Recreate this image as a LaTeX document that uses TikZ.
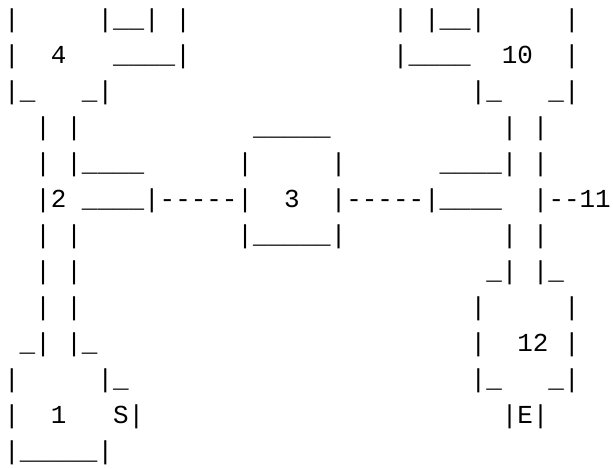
\documentclass[tikz,border=0pt]{standalone}
\usepackage{fontspec}
\setmonofont{Liberation Mono}
\usepackage{tikz}
\newcommand{\asciifont}{\fontsize{19.44pt}{27pt}\selectfont\ttfamily}

\begin{document}
\begin{tikzpicture}[
    x=11.6625pt, y=-27pt,
    ascii/.style={anchor=base west, inner sep=0pt, outer sep=0pt, font=\asciifont}
]
\path[use as bounding box, fill=white] (-0.27,-0.758) rectangle (39.15,12.242);

% room 4 and room 10 (top)
\node[ascii] (row0west) at (0,0) {|~~~~~|\_\_|~|};
\node[ascii] (row0east) at (25,0) {|~|\_\_|~~~~~|};
\node[ascii] (row1west) at (0,1) {|~~4~~~\_\_\_\_|};
\node[ascii] (row1east) at (25,1) {|\_\_\_\_~~10~~|};
\node[ascii] (row2west) at (0,2) {|\_~~~\_|};
\node[ascii] (row2east) at (30,2) {|\_~~~\_|};

% corridors, room 2 and room 3
\node[ascii] (row3west) at (2,3) {|~|};
\node[ascii] (row3mid) at (16,3) {\_\_\_\_\_};
\node[ascii] (row3east) at (32,3) {|~|};
\node[ascii] (row4west) at (2,4) {|~|\_\_\_\_};
\node[ascii] (row4mid) at (15,4) {|~~~~~|};
\node[ascii] (row4east) at (28,4) {\_\_\_\_|~|};
\node[ascii] (row5) at (2,5) {|2~\_\_\_\_|-----|~~3~~|-----|\_\_\_\_~~|--11};
\node[ascii] (row6west) at (2,6) {|~|};
\node[ascii] (row6mid) at (15,6) {|\_\_\_\_\_|};
\node[ascii] (row6east) at (32,6) {|~|};
\node[ascii] (row7west) at (2,7) {|~|};
\node[ascii] (row7east) at (31,7) {\_|~|\_};
\node[ascii] (row8west) at (2,8) {|~|};
\node[ascii] (row8east) at (30,8) {|~~~~~|};

% room 1 (start) and room 12 (end)
\node[ascii] (row9west) at (1,9) {\_|~|\_};
\node[ascii] (row9east) at (30,9) {|~~12~|};
\node[ascii] (row10west) at (0,10) {|~~~~~|\_};
\node[ascii] (row10east) at (30,10) {|\_~~~\_|};
\node[ascii] (row11west) at (0,11) {|~~1~~~S|};
\node[ascii] (row11east) at (32,11) {|E|};
\node[ascii] (row12west) at (0,12) {|\_\_\_\_\_|};
\end{tikzpicture}
\end{document}
